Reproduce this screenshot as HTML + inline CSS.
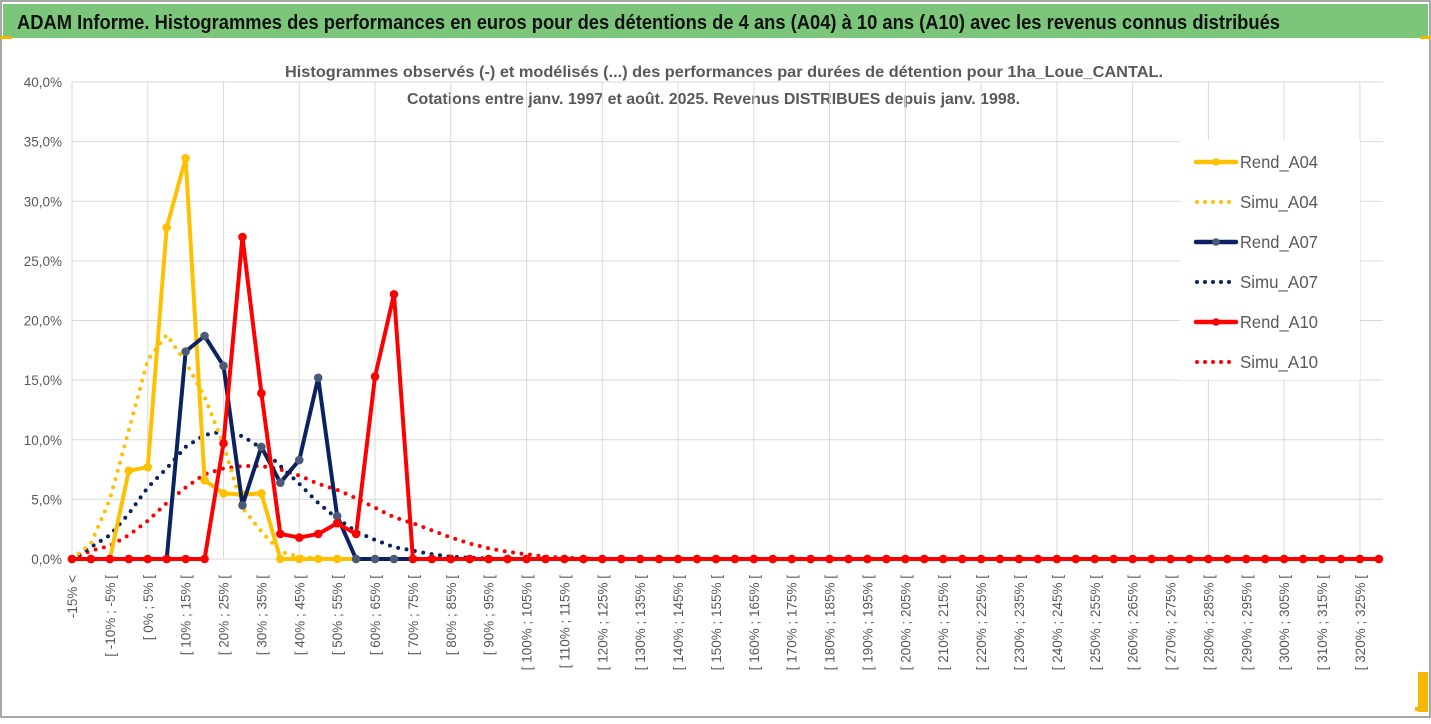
<!DOCTYPE html>
<html><head><meta charset="utf-8">
<style>
body{margin:0;background:#fff;width:1431px;height:719px;overflow:hidden;font-family:"Liberation Sans",sans-serif;}
svg text{font-family:"Liberation Sans",sans-serif;}
</style></head><body>
<svg id="chart" width="1431" height="719" xmlns="http://www.w3.org/2000/svg">
<rect x="0" y="0" width="1431" height="719" fill="#fff"/>
<rect x="1" y="1" width="1429" height="716" fill="none" stroke="#8a8a8a" stroke-width="1.5"/>
<rect x="3" y="4" width="1425" height="34" fill="#7cc67b"/>
<rect x="0" y="36" width="12" height="3" fill="#f5b800"/>
<rect x="1420" y="36" width="11" height="3" fill="#f5b800"/>
<rect x="1418" y="672" width="10" height="40" fill="#f5b800"/>
<rect x="1415" y="707" width="13" height="4" fill="#f5b800"/>
<text x="17" y="29" font-size="20" font-weight="bold" fill="#111" textLength="1263" lengthAdjust="spacingAndGlyphs">ADAM Informe. Histogrammes des performances en euros pour des détentions de 4 ans (A04) à 10 ans (A10) avec les revenus connus distribués</text>
<text x="285" y="77" font-size="16" font-weight="bold" fill="#595959" textLength="878" lengthAdjust="spacingAndGlyphs">Histogrammes observés (-) et modélisés (...) des performances par durées de détention pour 1ha_Loue_CANTAL.</text>
<text x="407" y="104" font-size="16" font-weight="bold" fill="#595959" textLength="613" lengthAdjust="spacingAndGlyphs">Cotations entre janv. 1997 et août. 2025. Revenus DISTRIBUES depuis janv. 1998.</text>
<g id="grid"></g>
<g id="yaxis"></g>
<g id="xaxis"></g>
<g id="series"></g>
<g id="legend"></g>
</svg>
<script>
const rendA04=[0,0,0,7.4,7.7,27.8,33.6,6.6,5.5,5.4,5.5,0];
const simuA04=[0,1.3,5,10.8,16.7,18.8,16.5,13.6,9.6,4.3,2.3,0.6,0.2,0.05];
const rendA07=[0,0,0,0,0,0,17.4,18.7,16.2,4.5,9.4,6.4,8.3,15.2,3.6,0];
const simuA07=[0,1.0,2.0,3.8,6.0,7.6,9.4,10.4,10.7,10.3,9.3,7.8,6.3,4.7,3.4,2.3,1.6,1.0,0.7,0.4,0.2,0.1,0.05];
const rendA10=[0,0,0,0,0,0,0,0,9.7,27.0,13.9,2.1,1.8,2.1,3.0,2.1,15.3,22.2,0];
const simuA10=[0,0.7,1.1,2.0,3.2,4.7,6.0,7.1,7.6,7.8,7.8,7.5,7.0,6.3,5.8,5.1,4.3,3.5,3.0,2.4,1.8,1.3,0.9,0.6,0.4,0.2,0.1,0.05];
const yTicks=[0,5,10,15,20,25,30,35,40];
const N=70;
const categories=[];
for(let i=0;i<N;i++){ if(i===0) categories.push("-15% <"); else {const a=-15+5*(i-1); categories.push("[ "+a+"% ; "+(a+5)+"% [");} }

const NS="http://www.w3.org/2000/svg";
const X0=72,DX=18.94,Y0=559,YTOP=82;
const xs=i=>X0+i*DX;
const ys=v=>Y0-(v/40)*(Y0-YTOP);
function mk(tag,attrs,parent){const e=document.createElementNS(NS,tag);for(const k in attrs)e.setAttribute(k,attrs[k]);parent.appendChild(e);return e;}
const grid=document.getElementById('grid'),yax=document.getElementById('yaxis'),xax=document.getElementById('xaxis'),ser=document.getElementById('series'),leg=document.getElementById('legend');
yTicks.forEach(t=>{
 const l=mk('line',{x1:X0,x2:xs(N-1)+4,y1:ys(t),y2:ys(t),stroke:'#d9d9d9','stroke-width':1},grid);
 
 
 const tx=mk('text',{x:62,y:ys(t)+5,'font-size':13.5,fill:'#595959','text-anchor':'end'},yax);
 tx.textContent=t.toFixed(1).replace('.',',')+'%';
 
 
});
for(let i=0;i<N;i+=4){
 const l=mk('line',{x1:xs(i),x2:xs(i),y1:YTOP,y2:Y0,stroke:'#d9d9d9','stroke-width':1},grid);
 
 
}
for(let i=0;i<N;i+=2){
 const x=xs(i)+5;
 const tx=mk('text',{x:0,y:0,'font-size':13.5,fill:'#595959','text-anchor':'end',transform:`translate(${x},575) rotate(-90)`},xax);
 tx.textContent=categories[i];
 
 
}
function full(arr){const a=[];for(let i=0;i<N;i++)a.push(i<arr.length?arr[i]:0);return a;}
function solid(arr,color,mcolor,name){
 const d=full(arr);
 const p=mk('polyline',{points:d.map((v,i)=>xs(i)+','+ys(v)).join(' '),fill:'none',stroke:color,'stroke-width':4,'stroke-linejoin':'round'},ser);
 
 
 d.forEach((v,i)=>{const c=mk('circle',{cx:xs(i),cy:ys(v),r:4.3,fill:mcolor},ser);
  
  });
}
function dotted(arr,color,name){
 const d=full(arr);
 const p=mk('polyline',{points:d.map((v,i)=>xs(i)+','+ys(v)).join(' '),fill:'none',stroke:color,'stroke-width':4,'stroke-dasharray':'0 8.5','stroke-linecap':'round'},ser);
 
 
}
dotted(simuA10,'#ff0000','simu-a10');
dotted(simuA07,'#0b2260','simu-a07');
dotted(simuA04,'#ffc000','simu-a04');
solid(rendA04,'#ffc000','#ffc000','rend-a04');
solid(rendA07,'#0b2260','#4a5a78','rend-a07');
solid(rendA10,'#ff0000','#ff0000','rend-a10');
const lb=mk('rect',{x:1180,y:140,width:180,height:240,fill:'#fff'},leg);


const legItems=[['Rend_A04','#ffc000','#ffc000',false],['Simu_A04','#ffc000','',true],['Rend_A07','#0b2260','#4a5a78',false],['Simu_A07','#0b2260','',true],['Rend_A10','#ff0000','#ff0000',false],['Simu_A10','#ff0000','',true]];
legItems.forEach((it,k)=>{
 const y=162+k*40;
 const g=mk('g',{},leg);
 
 
 if(it[3]){mk('line',{x1:1197,x2:1236,y1:y,y2:y,stroke:it[1],'stroke-width':4,'stroke-dasharray':'0 8','stroke-linecap':'round'},g);}
 else{mk('line',{x1:1196,x2:1236,y1:y,y2:y,stroke:it[1],'stroke-width':4.5,'stroke-linecap':'round'},g);mk('circle',{cx:1216,cy:y,r:3.8,fill:it[2]},g);}
 const t=mk('text',{x:1240,y:y+6,'font-size':17.5,fill:'#595959',textLength:78,lengthAdjust:'spacingAndGlyphs'},g);t.textContent=it[0];
});
</script>
</body></html>
